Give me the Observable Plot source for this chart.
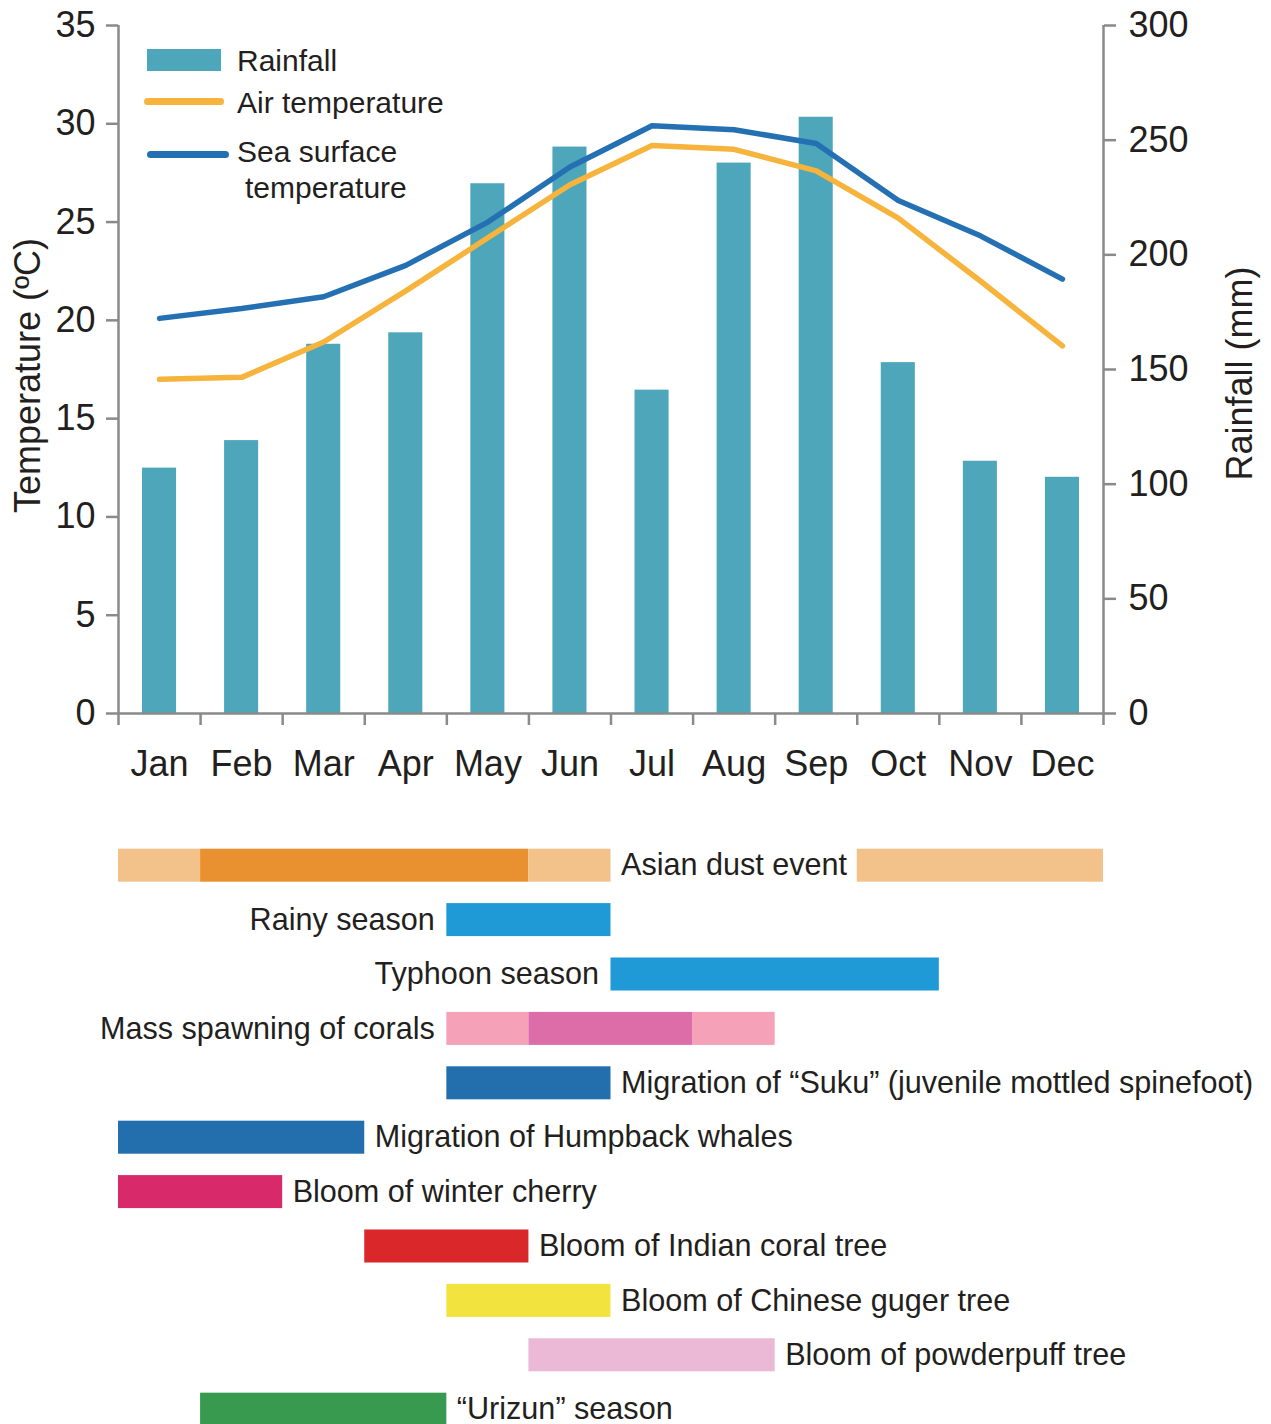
<!DOCTYPE html>
<html><head><meta charset="utf-8">
<script src="https://cdn.jsdelivr.net/npm/d3@7"></script>
<script src="https://cdn.jsdelivr.net/npm/@observablehq/plot@0.6"></script>
<style>
html,body{margin:0;padding:0;overflow:hidden;background:#fff;}
#wrap{position:relative;width:1271px;height:1424px;overflow:hidden;font-family:"Liberation Sans",Arial,Helvetica,sans-serif;color:#231f20;}
#wrap svg{position:absolute;left:0;}
.leg{position:absolute;font-size:30px;line-height:1;white-space:nowrap;color:#231f20;}
.sw{position:absolute;}
</style></head><body><div id="wrap"></div>
<script>
// ---- data ----
const months = ["Jan","Feb","Mar","Apr","May","Jun","Jul","Aug","Sep","Oct","Nov","Dec"];
const rainfall = [107, 119, 161, 166, 231, 247, 141, 240, 260, 153, 110, 103];
const airTemp = [17.0, 17.1, 18.9, 21.5, 24.2, 26.9, 28.9, 28.7, 27.6, 25.2, 22.0, 18.7];
const seaTemp = [20.1, 20.6, 21.2, 22.8, 25.0, 27.8, 29.9, 29.7, 29.0, 26.1, 24.3, 22.1];
const tempTicks = [0, 5, 10, 15, 20, 25, 30, 35];
const rainTicks = [0, 50, 100, 150, 200, 250, 300];

const events = ["Asian dust event","Rainy season","Typhoon season","Mass spawning of corals",
  "Migration of \u201cSuku\u201d (juvenile mottled spinefoot)","Migration of Humpback whales",
  "Bloom of winter cherry","Bloom of Indian coral tree","Bloom of Chinese guger tree",
  "Bloom of powderpuff tree","\u201cUrizun\u201d season"];
// segments: event index, start month (0 = start of Jan), end month, kind
const segEvent = [0,0,0,0, 1, 2, 3,3,3, 4, 5, 6, 7, 8, 9, 10];
const segStart = [0,1,5,9, 4, 6, 4,5,7, 4, 0, 0, 3, 4, 5, 1];
const segEnd   = [1,5,6,12, 6, 10, 5,7,8, 6, 3, 2, 5, 6, 8, 4];
const segKind  = ["dustLight","dust","dustLight","dustLight","rain","typhoon","coralLight","coral","coralLight",
  "suku","whale","cherry","coralTree","guger","powderpuff","urizun"];
// label side and anchor month for each event
const labelSide = ["right","left","left","left","right","right","right","right","right","right","right"];
const labelAt   = [6, 4, 6, 4, 6, 3, 2, 5, 6, 8, 4];

// ---- styles ----
const FONT = '"Liberation Sans", Arial, Helvetica, sans-serif';
const INK = "#231f20", GRAY = "#8a8a8a";
const kindColor = {dustLight:"#f3c28b", dust:"#e99131", rain:"#1f9ad6", typhoon:"#1f9ad6",
  coralLight:"#f5a1b8", coral:"#dc6da9", suku:"#236fae", whale:"#236fae", cherry:"#d8296a",
  coralTree:"#d9272a", guger:"#f2e33e", powderpuff:"#ebb8d5", urizun:"#379a4f"};
const RAIN_C = "#4ea6ba", AIR_C = "#f6b43c", SEA_C = "#2470b3";

const wrap = document.getElementById("wrap");
const common = {width:1271, height:800, marginLeft:118, marginRight:168, marginTop:25, marginBottom:87,
  style:{background:"transparent", fontFamily:FONT, fontSize:"36px", color:INK, overflow:"visible"}};

const rainData = months.map((m,i)=>({month:m, rain:rainfall[i]}));
const airData = months.map((m,i)=>({pos:i+0.5, t:airTemp[i]}));
const seaData = months.map((m,i)=>({pos:i+0.5, t:seaTemp[i]}));

const barPlot = Plot.plot({
  ...common,
  x:{type:"band", domain:months, paddingInner:0.585, paddingOuter:0.2925, round:false, axis:null},
  y:{domain:[0,300], axis:null},
  marks:[
    Plot.barY(rainData, {x:"month", y:"rain", fill:RAIN_C}),
    Plot.axisY({anchor:"right", ticks:rainTicks, tickSize:12, tickPadding:13, color:INK, stroke:GRAY, strokeWidth:2.5, fontSize:36, label:null})
  ]
});
barPlot.style.top = "0px";
wrap.appendChild(barPlot);

const linePlot = Plot.plot({
  ...common,
  x:{type:"linear", domain:[0,12], axis:null},
  y:{domain:[0,35], axis:null},
  marks:[
    Plot.ruleX([0,12], {stroke:GRAY, strokeWidth:2.5}),
    Plot.ruleY([0], {stroke:GRAY, strokeWidth:2.5}),
    Plot.axisX({ticks:d3.range(13), tickSize:12, tickFormat:()=>"", stroke:GRAY, strokeWidth:2.5, label:null}),
    Plot.axisX({ticks:months.map((m,i)=>i+0.5), tickSize:0, tickPadding:37, tickFormat:d=>months[Math.round(d-0.5)], color:INK, fontSize:36, label:null}),
    Plot.axisY({anchor:"left", ticks:tempTicks, tickSize:12, tickPadding:11, color:INK, stroke:GRAY, strokeWidth:2.5, fontSize:36, label:null}),
    Plot.line(airData, {x:"pos", y:"t", stroke:AIR_C, strokeWidth:5.5}),
    Plot.line(seaData, {x:"pos", y:"t", stroke:SEA_C, strokeWidth:5.5}),
    Plot.text(["Temperature (\u00baC)"], {text:d=>d, frameAnchor:"left", textAnchor:"middle", rotate:-90, dx:-90, dy:6, fontSize:36, fill:INK}),
    Plot.text(["Rainfall (mm)"], {text:d=>d, frameAnchor:"right", textAnchor:"middle", rotate:-90, dx:137, dy:4, fontSize:36, fill:INK})
  ]
});
linePlot.style.top = "0px";
wrap.appendChild(linePlot);

// legend (HTML)
function addDiv(cls, css, text){ const d=document.createElement("div"); d.className=cls; Object.assign(d.style, css); if(text) d.textContent=text; wrap.appendChild(d); }
addDiv("sw", {left:"147px", top:"49px", width:"74px", height:"22px", background:RAIN_C});
addDiv("sw", {left:"144px", top:"98px", width:"80px", height:"7px", borderRadius:"4px", background:AIR_C});
addDiv("sw", {left:"147px", top:"151px", width:"82px", height:"7px", borderRadius:"4px", background:SEA_C});
addDiv("leg", {left:"237px", top:"46px"}, "Rainfall");
addDiv("leg", {left:"237px", top:"88px"}, "Air temperature");
addDiv("leg", {left:"237px", top:"137px"}, "Sea surface");
addDiv("leg", {left:"245px", top:"173px"}, "temperature");

// timeline
const segs = segEvent.map((e,i)=>({event:events[e], from:segStart[i], to:segEnd[i], kind:segKind[i]}));
const labels = events.map((e,i)=>({event:e, at:labelAt[i], side:labelSide[i]}));
const tl = Plot.plot({
  width:1271, height:598.4, marginLeft:118, marginRight:168, marginTop:0, marginBottom:0,
  style:{background:"transparent", fontFamily:FONT, fontSize:"30.6px", color:INK, overflow:"visible"},
  x:{type:"linear", domain:[0,12], axis:null},
  y:{type:"band", domain:events, paddingInner:0.393, paddingOuter:0.1965, round:false, axis:null},
  marks:[
    Plot.barX(segs, {x1:"from", x2:"to", y:"event", fill:d=>kindColor[d.kind]}),
    Plot.text(labels.filter(d=>d.side==="left"), {x:"at", y:"event", text:"event", textAnchor:"end", dx:-12, fontSize:30.6, fill:INK}),
    Plot.text(labels.filter(d=>d.side==="right"), {x:"at", y:"event", text:"event", textAnchor:"start", dx:10, fontSize:30.6, fill:INK})
  ]
});
tl.style.top = "838.3px";
wrap.appendChild(tl);
</script></body></html>
